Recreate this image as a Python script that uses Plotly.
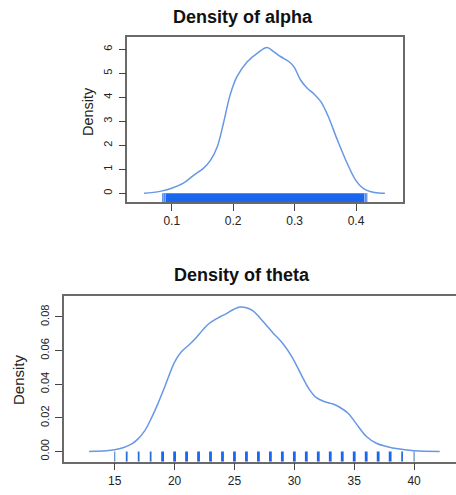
import plotly.graph_objects as go

# ---------------- data ----------------
alpha_x = [0.055, 0.081, 0.100, 0.119, 0.135, 0.152, 0.163, 0.174, 0.184, 0.195,
           0.206, 0.223, 0.239, 0.255, 0.266, 0.277, 0.291, 0.299, 0.310, 0.321,
           0.332, 0.343, 0.354, 0.370, 0.386, 0.400, 0.413, 0.430, 0.447]
alpha_y = [0.00, 0.08, 0.21, 0.42, 0.74, 1.05, 1.37, 1.93, 2.90, 4.09,
           4.85, 5.48, 5.83, 6.07, 5.90, 5.70, 5.48, 5.27, 4.71, 4.37,
           4.13, 3.81, 3.25, 2.20, 1.23, 0.53, 0.18, 0.03, 0.00]
alpha_rug_band = [0.0847, 0.4184]          # dense rug of alpha samples (lo, hi)
alpha_rug_edge = [0.0870, 0.0895, 0.4140, 0.4165]  # lighter isolated samples

theta_x = [12.86, 14.30, 15.00, 15.70, 16.39, 16.95, 17.50, 18.06, 18.62, 19.18,
           20.01, 20.57, 21.26, 21.82, 22.38, 22.93, 23.77, 24.33, 24.88, 25.44,
           26.00, 26.55, 27.11, 27.67, 28.22, 28.92, 29.62, 30.17, 30.73, 31.29,
           31.84, 32.54, 33.24, 33.79, 34.49, 35.18, 36.02, 36.85, 37.69, 38.80,
           40.00, 42.14]
theta_y = [0.0000, 0.0004, 0.0010, 0.0022, 0.0043, 0.0075, 0.0122, 0.0198, 0.0286, 0.0385,
           0.0533, 0.0593, 0.0638, 0.0678, 0.0725, 0.0764, 0.0800, 0.0820, 0.0843, 0.0859,
           0.0855, 0.0836, 0.0796, 0.0751, 0.0705, 0.0652, 0.0583, 0.0514, 0.0435, 0.0365,
           0.0320, 0.0296, 0.0282, 0.0263, 0.0227, 0.0164, 0.0089, 0.0049, 0.0030, 0.0014,
           0.0004, 0.0000]
theta_rug_sparse = [15, 40]
theta_rug_mid = [16, 17, 18, 39]
theta_rug_dense = [19, 20, 21, 22, 23, 24, 25, 26, 27, 28, 29, 30, 31, 32, 33,
                   34, 35, 36, 37, 38]

alpha_ticks = [0.1, 0.2, 0.3, 0.4]
alpha_yticks = [0, 1, 2, 3, 4, 5, 6]
theta_ticks = [15, 20, 25, 30, 35, 40]
theta_yticks = [0.00, 0.02, 0.04, 0.06, 0.08]

# ---------------- figure ----------------
W, H = 456, 495
FONT = "Liberation Sans, Arial, Helvetica, sans-serif"
TXT = "#222222"
CURVE = "#6797e6"
RUG = "#1a66ee"
BOX = "#6a6a6a"

A_XR = [0.0277, 0.476]
A_YR = [-0.375, 6.5]
T_XR = [10.74, 43.5]
T_YR = [-0.0061, 0.0923]

fig = go.Figure()

fig.add_trace(go.Scatter(x=alpha_x, y=alpha_y, mode="lines",
                         line=dict(color=CURVE, width=1.5, shape="spline"),
                         xaxis="x", yaxis="y", hoverinfo="skip"))

def rug_xy(vals, y0, y1):
    xs, ys = [], []
    for v in vals:
        xs += [v, v, None]
        ys += [y0, y1, None]
    return xs, ys

fig.add_trace(go.Scatter(x=alpha_rug_band + alpha_rug_band[::-1] + alpha_rug_band[:1],
                         y=[A_YR[0], A_YR[0], 0, 0, A_YR[0]],
                         mode="lines", fill="toself", fillcolor=RUG,
                         line=dict(width=0, color=RUG),
                         xaxis="x", yaxis="y", hoverinfo="skip"))
rx, ry = rug_xy(alpha_rug_edge, A_YR[0], 0)
fig.add_trace(go.Scatter(x=rx, y=ry, mode="lines",
                         line=dict(color="#9fc0f5", width=1),
                         xaxis="x", yaxis="y", hoverinfo="skip"))

fig.add_trace(go.Scatter(x=theta_x, y=theta_y, mode="lines",
                         line=dict(color=CURVE, width=1.5, shape="spline"),
                         xaxis="x2", yaxis="y2", hoverinfo="skip"))
for vals, col, w in [(theta_rug_sparse, "#5f86c8", 1.2),
                     (theta_rug_mid, "#2f6fd8", 1.8),
                     (theta_rug_dense, RUG, 2.8)]:
    rx, ry = rug_xy(vals, T_YR[0], 0)
    fig.add_trace(go.Scatter(x=rx, y=ry, mode="lines",
                             line=dict(color=col, width=w),
                             xaxis="x2", yaxis="y2", hoverinfo="skip"))

axis_common = dict(showgrid=False, zeroline=False, showline=True, linecolor=BOX,
                   linewidth=1.5, ticks="outside", ticklen=7, tickwidth=1,
                   tickcolor="#444", fixedrange=True)

def ann(text, x, y, size, angle=0, color=TXT):
    return dict(text=text, x=x / W, y=1 - y / H, xref="paper", yref="paper",
                xanchor="center", yanchor="middle", showarrow=False,
                textangle=angle, font=dict(size=size, color=color))

fig.update_layout(
    width=W, height=H, margin=dict(l=0, r=0, t=0, b=0),
    paper_bgcolor="white", plot_bgcolor="white", showlegend=False,
    font=dict(family=FONT, color=TXT),
    xaxis=dict(domain=[127.3 / W, 402.7 / W], range=A_XR, anchor="y",
               tickvals=alpha_ticks, ticktext=[str(v) for v in alpha_ticks],
               tickfont=dict(size=12), mirror=True, **axis_common),
    yaxis=dict(domain=[1 - 202.3 / H, 1 - 37.3 / H], range=A_YR, anchor="x",
               tickvals=alpha_yticks, ticktext=[str(v) for v in alpha_yticks],
               tickangle=-90, tickfont=dict(size=11), mirror=True,
               ticklabelstandoff=2, **axis_common),
    xaxis2=dict(domain=[63.7 / W, 1.0], range=T_XR, anchor="y2",
                tickvals=theta_ticks, ticktext=[str(v) for v in theta_ticks],
                tickfont=dict(size=12), mirror=True, **axis_common),
    yaxis2=dict(domain=[1 - 461.7 / H, 1 - 296.3 / H], range=T_YR, anchor="x2",
                tickvals=theta_yticks, ticktext=["%.2f" % v for v in theta_yticks],
                tickangle=-90, tickfont=dict(size=11), mirror=False,
                ticklabelstandoff=2, **axis_common),
    annotations=[
        ann("<b>Density of alpha</b>", 243, 17, 18, color="#111"),
        ann("<b>Density of theta</b>", 242, 275, 18, color="#111"),
        ann("Density", 88, 112, 14.5, angle=-90),
        ann("Density", 18, 380, 15, angle=-90),
    ],
)

fig.write_html("out.html")
